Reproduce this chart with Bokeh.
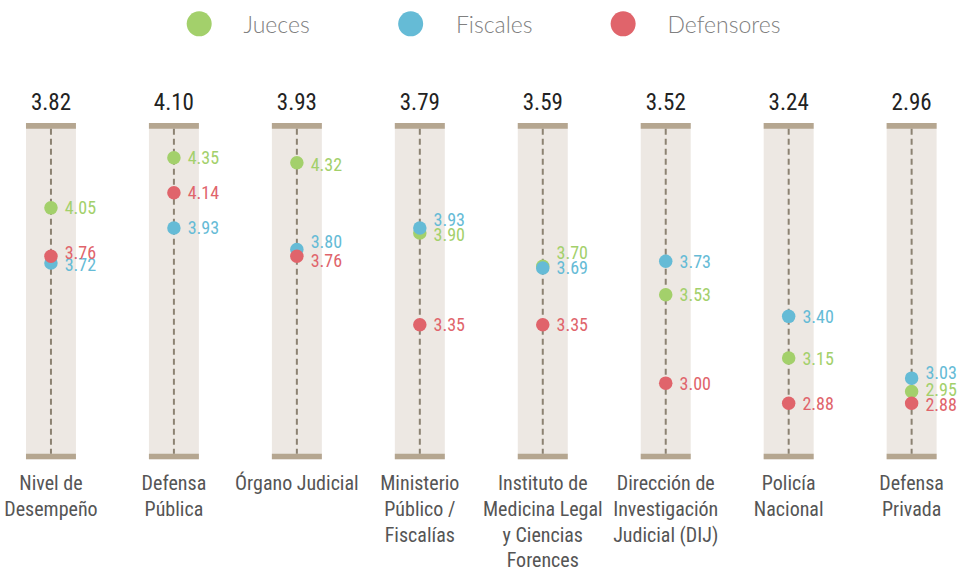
from bokeh.plotting import figure
from bokeh.models import ColumnDataSource, Range1d
from bokeh.core.properties import value
from bokeh.embed import file_html
from bokeh.resources import INLINE

# ---------------- data ----------------
categories = ["Nivel de\nDesempeño", "Defensa\nPública", "Órgano Judicial",
              "Ministerio\nPúblico /\nFiscalías",
              "Instituto de\nMedicina Legal\ny Ciencias\nForences",
              "Dirección de\nInvestigación\nJudicial (DIJ)",
              "Policía\nNacional", "Defensa\nPrivada"]
totals = [3.82, 4.10, 3.93, 3.79, 3.59, 3.52, 3.24, 2.96]
jueces = [4.05, 4.35, 4.32, 3.90, 3.70, 3.53, 3.15, 2.95]
fiscales = [3.72, 3.93, 3.80, 3.93, 3.69, 3.73, 3.40, 3.03]
defensores = [3.76, 4.14, 3.76, 3.35, 3.35, 3.00, 2.88, 2.88]
series_names = ["Jueces", "Fiscales", "Defensores"]

# ---------------- style ----------------
GREEN, BLUE, RED = "#a3d06b", "#65bbd6", "#e0646b"
BAND, CAP, DASH = "#ede8e3", "#b5a690", "#8c8272"
NARROW = "Liberation Sans Narrow, Arial Narrow, Roboto Condensed, DejaVu Sans Condensed, sans-serif"
LIGHT = "Lato Light, Lato, sans-serif"
# label nudges in pixels (positive = down) to avoid overlaps
jueces_off = [0, 0, 2, 2, -14, 0, 0, -2]
fiscales_off = [2, 0, -8, -8, 0, 0, 0, -6]
defensores_off = [-4, 0, 4, 0, 0, 0, 0, 1]

W, H = 961, 571
REF_W, REF_H = 977, 587
PX_PER_UNIT = 171.6          # reference pixels per value unit
REF_Y, REF_V = 161.7, 4.35   # reference anchor of the value scale
COL0, COL_STEP = 57.3, 125.0  # reference x of first column and spacing
XPAD = 6                     # shift the columns a little to the left


def v_at(ry):
    """value located at reference pixel row ry"""
    return REF_V - (ry - REF_Y) / PX_PER_UNIT


def x_at(rx):
    """column coordinate located at reference pixel column rx"""
    return (rx - COL0) / COL_STEP


p = figure(width=W, height=H, output_backend="svg", toolbar_location=None,
           x_range=Range1d(x_at(XPAD), x_at(REF_W + XPAD)),
           y_range=Range1d(v_at(REF_H), v_at(0)),
           min_border=0, outline_line_color=None)
p.axis.visible = False
p.grid.visible = False
p.background_fill_color = "white"

n = len(categories)
xs = list(range(n))
half = 25.4 / COL_STEP

# bands and caps
band_top, band_bot = v_at(126), v_at(471.7)
cap_h = 5.8 / PX_PER_UNIT
L = [x - half for x in xs]
R = [x + half for x in xs]
p.quad(left=L, right=R, top=[band_top] * n, bottom=[band_bot] * n,
       fill_color=BAND, line_color=None)
p.quad(left=L, right=R, top=[band_top] * n, bottom=[band_top - cap_h] * n,
       fill_color=CAP, line_color=None)
p.quad(left=L, right=R, top=[band_bot + cap_h] * n, bottom=[band_bot] * n,
       fill_color=CAP, line_color=None)
p.segment(x0=xs, x1=xs, y0=[band_top - cap_h] * n, y1=[band_bot + cap_h] * n,
          line_color=DASH, line_width=2, line_dash="6 4")

# dots and labels
for vals, offs, col in [(jueces, jueces_off, GREEN), (fiscales, fiscales_off, BLUE),
                        (defensores, defensores_off, RED)]:
    src = ColumnDataSource(dict(x=xs, y=vals, lab=["%.2f" % v for v in vals],
                                off=offs, lx=[x + 14 / COL_STEP for x in xs]))
    p.scatter("x", "y", source=src, size=13.5, fill_color=col, line_color=None)
    p.text("lx", "y", text="lab", source=src, y_offset="off", text_color=col,
           text_font=value(NARROW), text_font_size="18px",
           text_baseline="middle", text_align="left")

# top totals
p.text(x=xs, y=[v_at(104)] * n, text=["%.2f" % v for v in totals],
       text_font=value(NARROW), text_font_size="23px", text_color="#222222",
       text_baseline="middle", text_align="center")

# category labels
p.text(x=xs, y=[v_at(497 - 26.5 / 2)] * n, text=categories, text_font=value(NARROW),
       text_font_size="20px", text_color="#555555", text_baseline="top",
       text_align="center", text_line_height=1.075)

# legend
leg_y = v_at(24)
leg_x = [x_at(208), x_at(423), x_at(639)]
p.scatter(x=leg_x, y=[leg_y] * 3, size=25, fill_color=[GREEN, BLUE, RED], line_color=None)
p.text(x=[x_at(253), x_at(469), x_at(684)], y=[leg_y] * 3, text=series_names,
       text_font=value(LIGHT), text_font_size="23px", text_color="#808080",
       text_baseline="middle", text_align="left")

open("out.html", "w").write(file_html(p, INLINE))
